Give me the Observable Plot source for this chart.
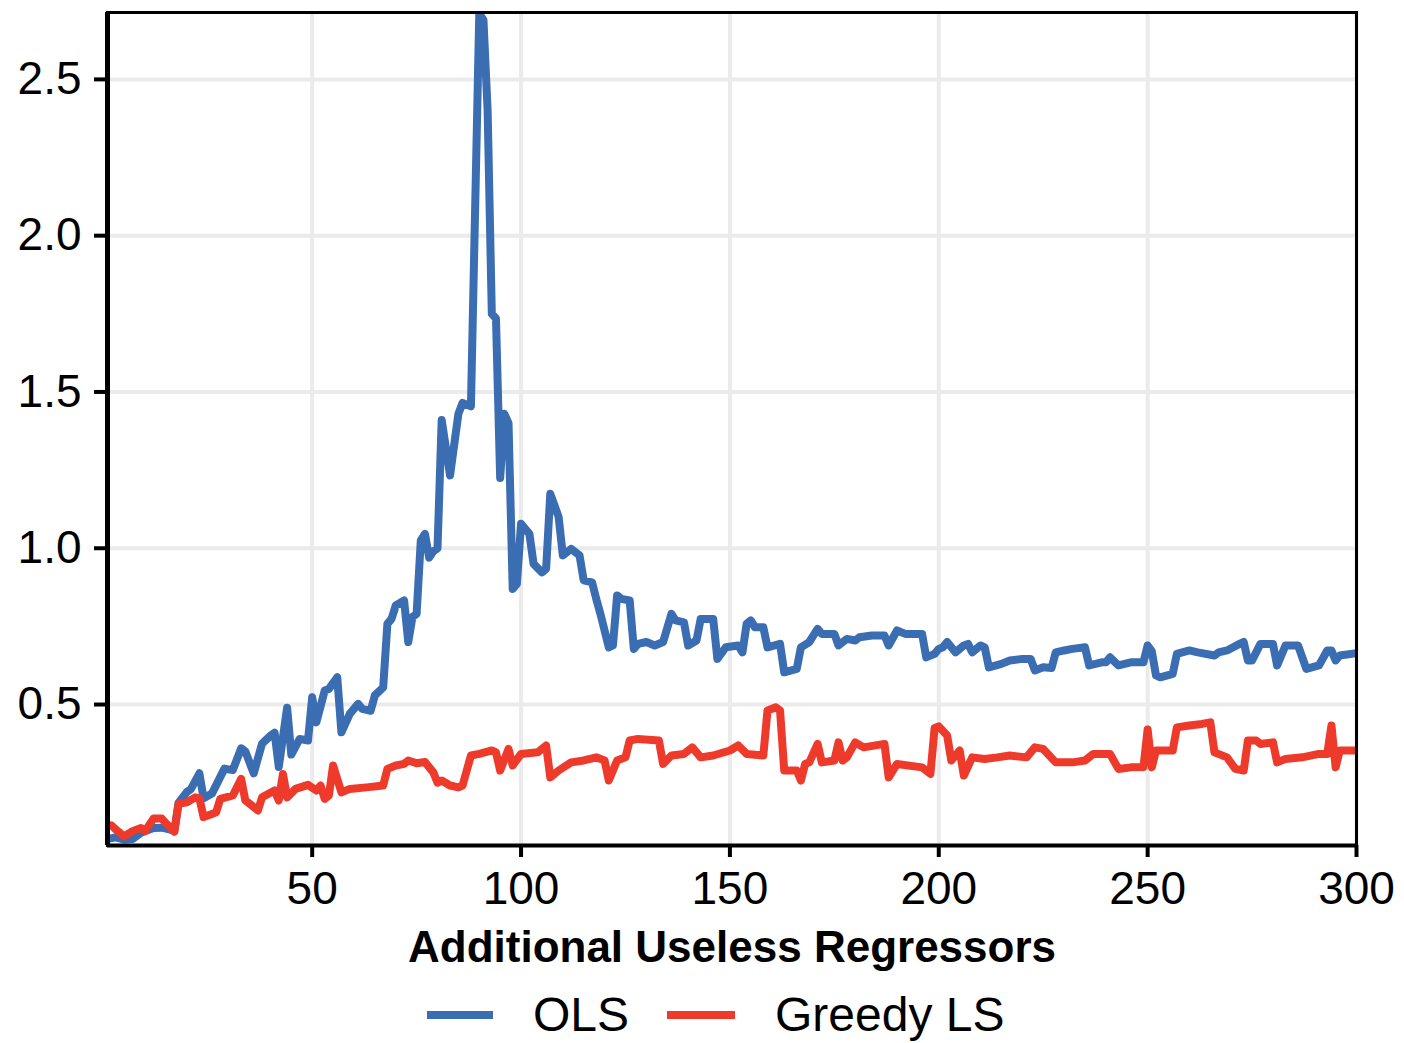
<!DOCTYPE html>
<html><head><meta charset="utf-8">
<script src="https://cdn.jsdelivr.net/npm/d3@7"></script>
<script src="https://cdn.jsdelivr.net/npm/@observablehq/plot@0.6"></script>
<style>
body{margin:0;background:#fff;font-family:"Liberation Sans",Arial,sans-serif;}
#wrap{position:relative;width:1404px;height:1043px;overflow:hidden;}
.key{position:absolute;height:8px;}
.lab{position:absolute;font-size:48px;line-height:48px;color:#000;white-space:nowrap;}
</style></head><body>
<div id="wrap"><div id="chart"></div><div id="legend"></div></div>
<script>
// ---- data ----
const seriesNames = ["OLS", "Greedy LS"];
const seriesColors = ["#3a6db1", "#ee3a2b"];
const xTicks = [50, 100, 150, 200, 250, 300];
const yTicks = [0.5, 1.0, 1.5, 2.0, 2.5];
const xTitle = "Additional Useless Regressors";

const olsX = [1,3,5,7,9,12,14,16,17,18,20,21,23,24,26,29,31,33,34,36,38,40,41,42,44,45,47,49,50,51,53,54,56,57,59,61,62,64,65,67,68,69,70,72,73,74,75,76,77,78,79,80,81,83,85,86,88,90,91,92,93,94,95,96,97,98,99,100,102,103,105,106,107,109,110,112,114,115,117,118,119,121,122,123,124,126,127,128,130,132,134,136,137,139,140,142,143,146,147,149,152,153,154,155,156,158,159,162,163,166,167,169,171,172,175,176,178,180,181,184,187,188,190,192,196,197,199,200,201,202,204,206,207,208,210,211,212,215,217,220,222,223,225,227,228,230,232,235,236,239,240,241,243,246,249,250,251,252,253,256,257,260,262,266,267,269,272,273,274,275,277,280,281,283,286,288,291,293,294,295,296,300];
const olsY = [0.07,0.075,0.068,0.07,0.09,0.105,0.106,0.10,0.095,0.185,0.22,0.23,0.28,0.20,0.215,0.295,0.29,0.36,0.35,0.28,0.375,0.40,0.41,0.30,0.49,0.34,0.39,0.385,0.523,0.443,0.545,0.55,0.587,0.411,0.47,0.502,0.486,0.48,0.529,0.555,0.758,0.774,0.817,0.833,0.70,0.78,0.79,1.025,1.046,0.97,0.99,1.00,1.41,1.233,1.43,1.465,1.454,2.71,2.69,2.40,1.75,1.735,1.225,1.43,1.40,0.87,0.886,1.078,1.046,0.95,0.923,0.934,1.174,1.10,0.977,0.998,0.977,0.897,0.891,0.838,0.79,0.683,0.689,0.849,0.838,0.833,0.678,0.694,0.70,0.689,0.70,0.79,0.769,0.763,0.689,0.705,0.774,0.774,0.646,0.683,0.689,0.667,0.758,0.769,0.747,0.747,0.683,0.694,0.603,0.614,0.683,0.70,0.742,0.726,0.726,0.689,0.71,0.705,0.715,0.721,0.721,0.689,0.737,0.726,0.726,0.651,0.662,0.678,0.683,0.70,0.667,0.689,0.694,0.667,0.689,0.683,0.619,0.63,0.641,0.646,0.646,0.609,0.619,0.617,0.667,0.673,0.678,0.683,0.625,0.635,0.635,0.651,0.625,0.635,0.635,0.689,0.67,0.593,0.587,0.598,0.662,0.673,0.667,0.657,0.667,0.673,0.694,0.70,0.641,0.641,0.694,0.694,0.625,0.689,0.689,0.614,0.625,0.673,0.673,0.641,0.657,0.664];

const glsX = [1,2,3,5,7,9,10,12,14,15,17,18,20,22,23,24,26,27,28,31,33,34,37,38,41,42,43,44,46,49,51,52,53,54,55,57,59,63,67,68,70,72,73,75,77,79,80,81,83,85,86,88,90,93,94,95,97,98,100,104,106,107,109,112,115,118,120,121,123,125,126,128,133,134,136,139,141,143,146,150,152,154,158,159,161,162,163,166,167,168,169,171,172,175,176,177,178,180,182,187,188,190,196,198,199,200,202,203,205,206,208,211,214,217,221,223,225,228,232,235,237,241,243,246,249,250,251,252,256,257,260,263,265,266,269,271,273,274,276,277,280,281,283,287,291,293,294,295,296,300];
const glsY = [0.115,0.113,0.10,0.078,0.095,0.105,0.095,0.135,0.135,0.12,0.093,0.182,0.187,0.203,0.20,0.14,0.15,0.155,0.198,0.209,0.262,0.193,0.161,0.203,0.225,0.193,0.278,0.203,0.23,0.243,0.225,0.241,0.198,0.209,0.305,0.219,0.23,0.235,0.241,0.294,0.305,0.31,0.321,0.312,0.316,0.283,0.25,0.257,0.241,0.235,0.241,0.337,0.342,0.353,0.347,0.289,0.358,0.305,0.342,0.347,0.369,0.267,0.289,0.315,0.321,0.331,0.321,0.257,0.321,0.331,0.385,0.39,0.385,0.31,0.337,0.342,0.363,0.331,0.337,0.353,0.369,0.342,0.337,0.481,0.491,0.481,0.289,0.289,0.257,0.31,0.315,0.374,0.315,0.321,0.379,0.321,0.331,0.379,0.363,0.374,0.267,0.31,0.299,0.278,0.425,0.43,0.401,0.321,0.353,0.273,0.331,0.326,0.331,0.337,0.331,0.363,0.358,0.315,0.315,0.321,0.342,0.342,0.294,0.299,0.30,0.42,0.299,0.353,0.353,0.427,0.433,0.438,0.443,0.347,0.331,0.294,0.289,0.385,0.385,0.374,0.379,0.315,0.326,0.331,0.342,0.342,0.433,0.299,0.353,0.353];

const yDomain = [0.049, 2.714];
const xDomain = [1, 300];

// ---- build table ----
const rows = [
  ...olsX.map((x, i) => ({x, y: olsY[i], s: seriesNames[0]})),
  ...glsX.map((x, i) => ({x, y: glsY[i], s: seriesNames[1]}))
];

const font = "Liberation Sans, Arial, Helvetica, sans-serif";
const chart = Plot.plot({
  width: 1404,
  height: 985,
  marginLeft: 107,
  marginRight: 48,
  marginTop: 12,
  marginBottom: 140,
  style: {fontFamily: font, background: "white", color: "black"},
  x: {domain: xDomain},
  y: {domain: yDomain},
  color: {domain: seriesNames, range: seriesColors},
  marks: [
    Plot.gridX(xTicks, {stroke: "#ebebeb", strokeOpacity: 1, strokeWidth: 4}),
    Plot.gridY(yTicks, {stroke: "#ebebeb", strokeOpacity: 1, strokeWidth: 4}),
    Plot.line(rows, {x: "x", y: "y", z: "s", stroke: "s", strokeWidth: 8, strokeLinejoin: "round", strokeLinecap: "butt", clip: true}),
    Plot.frame({stroke: "black", strokeWidth: 3}),
    Plot.ruleX([xDomain[0]], {stroke: "black", strokeWidth: 5}),
    Plot.ruleY([yDomain[0]], {stroke: "black", strokeWidth: 4}),
    Plot.axisX(xTicks, {tickSize: 12, tickPadding: 14, fontSize: 46, strokeWidth: 4, label: null, tickFormat: d => String(d)}),
    Plot.axisY(yTicks, {tickSize: 13, tickPadding: 13, fontSize: 46, strokeWidth: 4, label: null, tickFormat: d3.format(".1f")}),
    Plot.text([xTitle], {text: d => d, frameAnchor: "bottom", dy: 116, fontSize: 44, fontWeight: "bold", fill: "black"})
  ]
});
document.getElementById("chart").appendChild(chart);

// ---- legend (HTML) ----
const leg = document.getElementById("legend");
const keyLeft = [427, 667], keyW = [66, 68], labLeft = [533, 775];
seriesNames.forEach((name, i) => {
  const k = document.createElement("div");
  k.className = "key";
  k.style.left = keyLeft[i] + "px"; k.style.width = keyW[i] + "px";
  k.style.top = "1011px"; k.style.background = seriesColors[i];
  leg.appendChild(k);
  const t = document.createElement("div");
  t.className = "lab";
  t.style.left = labLeft[i] + "px"; t.style.top = "991px";
  t.textContent = name;
  leg.appendChild(t);
});
</script>
</body></html>
